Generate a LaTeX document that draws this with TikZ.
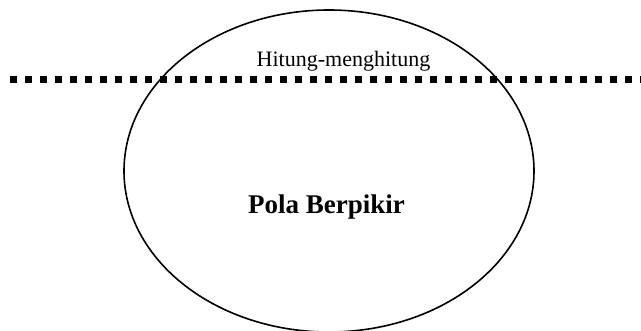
\documentclass[tikz,border=0pt]{standalone}
\usepackage{fontspec}
\setmainfont{Liberation Serif}
\usetikzlibrary{shapes.geometric}
\begin{document}
\begin{tikzpicture}[x=1pt,y=1pt,
  oval/.style={draw=black,line width=1.6pt},
  dotline/.style={line width=7pt,dash pattern=on 7pt off 8pt},
  small/.style={font=\fontsize{22}{26}\selectfont,anchor=base,inner sep=0pt},
  big/.style={font=\fontsize{27}{32}\selectfont\bfseries,anchor=base,inner sep=0pt}]
\useasboundingbox (0,0) rectangle (641,330);
\coordinate (L) at (10,250);
\coordinate (R) at (641,250);
\draw[dotline] (L) -- (R);
\node[ellipse,oval,minimum width=410pt,minimum height=322pt,inner sep=0pt] (e) at (329,159) {};
\node[small] (t1) at (343.5,263.3) {Hitung-menghitung};
\node[big] (t2) at (326.5,117) {Pola Berpikir};
\end{tikzpicture}
\end{document}
